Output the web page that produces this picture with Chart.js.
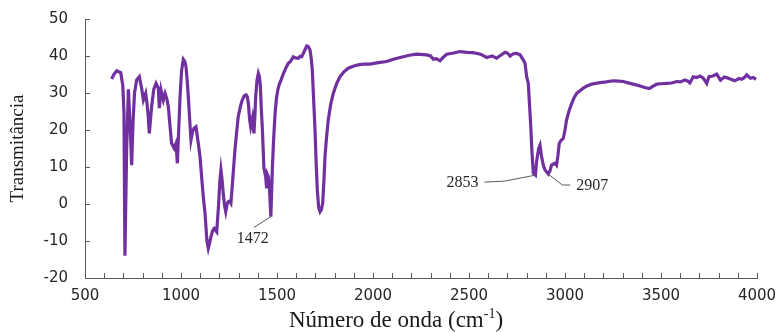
<!DOCTYPE html>
<html>
<head>
<meta charset="utf-8">
<script src="https://cdn.jsdelivr.net/npm/chart.js@4.4.1/dist/chart.umd.min.js"></script>
<style>
  html, body { margin: 0; padding: 0; background: #fff; }
  #wrap { width: 778px; height: 333px; }
</style>
</head>
<body>
<div id="wrap"><canvas id="spectrum" width="778" height="333"></canvas></div>
<script>
// wavenumber (cm-1) and transmittance
var wavenumbers = [
  639, 650, 665, 686, 697, 703, 708, 717, 726, 736, 743, 750, 758, 769, 783, 795, 804, 816, 822, 829,
  835, 847, 858, 870, 882, 887, 896, 908, 917, 926, 934, 943, 951, 964, 974, 981, 988, 995, 1003, 1012,
  1020, 1026, 1032, 1038, 1045, 1052, 1060, 1068, 1078, 1090, 1099, 1108, 1116, 1125, 1135, 1142, 1149, 1156, 1165, 1173,
  1186, 1196, 1202, 1208, 1214, 1220, 1227, 1233, 1240, 1246, 1253, 1260, 1270, 1281, 1290, 1298, 1310, 1319, 1329, 1339,
  1345, 1351, 1357, 1363, 1372, 1380, 1385, 1389, 1396, 1403, 1408, 1413, 1418, 1424, 1432, 1441, 1446, 1450, 1455, 1460,
  1468, 1476, 1483, 1490, 1497, 1504, 1512, 1521, 1530, 1538, 1548, 1559, 1570, 1585, 1597, 1611, 1620, 1629, 1640, 1648,
  1655, 1662, 1672, 1678, 1684, 1691, 1698, 1704, 1710, 1717, 1724, 1731, 1738, 1744, 1750, 1758, 1767, 1780, 1793, 1810,
  1828, 1850, 1871, 1900, 1923, 1950, 1984, 2028, 2071, 2110, 2158, 2190, 2227, 2280, 2300, 2314, 2330, 2349, 2365, 2384,
  2420, 2453, 2490, 2522, 2560, 2592, 2620, 2644, 2665, 2688, 2700, 2714, 2730, 2748, 2766, 2783, 2792, 2800, 2809, 2815,
  2821, 2828, 2835, 2846, 2851, 2856, 2863, 2870, 2878, 2887, 2896, 2913, 2922, 2930, 2940, 2948, 2956, 2963, 2970, 2980,
  2991, 3000, 3008, 3020, 3035, 3048, 3061, 3080, 3095, 3115, 3139, 3160, 3182, 3215, 3252, 3280, 3303, 3339, 3370, 3391,
  3415, 3439, 3455, 3478, 3500, 3530, 3555, 3582, 3600, 3625, 3640, 3650, 3668, 3685, 3703, 3720, 3738, 3750, 3770, 3790,
  3810, 3830, 3851, 3870, 3885, 3905, 3920, 3935, 3946, 3966, 3980, 3995
];
var transmittance = [
  33.8, 35.0, 36.0, 35.5, 32.0, 24.6, -14.0, 15.0, 31.0, 20.0, 10.5, 22.0, 30.0, 33.5, 34.4, 31.3, 28.1, 29.9, 27.6, 24.0,
  19.1, 26.3, 31.0, 32.6, 31.3, 25.9, 30.8, 28.1, 29.9, 28.5, 26.3, 21.0, 16.4, 15.1, 16.4, 11.0, 20.0, 29.0, 36.0, 39.1,
  38.5, 37.1, 33.5, 29.0, 23.0, 17.3, 19.5, 20.5, 20.9, 16.4, 12.8, 7.0, 2.0, -2.4, -10.0, -12.0, -10.5, -8.8, -7.2, -6.6,
  -7.5, 0.0, 6.0, 9.2, 6.5, 2.9, -0.5, -2.1, 0.0, 0.6, 0.8, 0.2, 7.0, 14.6, 19.5, 23.6, 26.5, 28.1, 29.2, 29.5,
  29.0, 27.2, 23.0, 20.9, 23.2, 19.1, 24.0, 29.0, 33.5, 35.3, 34.5, 32.2, 26.0, 20.0, 9.6, 7.4, 4.2, 8.0, 7.4, 5.0,
  -3.4, 10.0, 18.0, 24.5, 28.5, 30.8, 32.4, 33.5, 34.8, 35.8, 37.0, 38.0, 38.5, 39.8, 39.5, 39.4, 39.9, 39.8, 41.0, 42.0,
  42.7, 42.6, 41.6, 39.5, 36.2, 28.0, 20.0, 11.0, 3.8, -1.0, -2.1, -1.5, 0.2, 6.0, 12.8, 18.0, 22.7, 27.0, 29.9, 32.5,
  34.4, 35.8, 36.7, 37.3, 37.6, 37.8, 37.8, 38.2, 38.5, 39.2, 39.8, 40.2, 40.5, 40.3, 40.0, 39.1, 39.3, 38.7, 39.6, 40.5,
  40.8, 41.2, 41.0, 40.9, 40.5, 39.6, 40.0, 39.4, 40.2, 41.0, 40.8, 40.0, 40.6, 40.7, 40.3, 38.9, 38.0, 34.5, 32.6, 27.0,
  21.8, 14.0, 8.3, 7.8, 11.0, 12.8, 15.0, 15.9, 12.8, 10.5, 9.2, 8.1, 9.0, 10.5, 10.8, 11.0, 10.5, 13.0, 16.4, 17.2,
  17.7, 20.0, 22.7, 25.0, 27.2, 28.8, 29.9, 30.7, 31.3, 31.9, 32.4, 32.6, 32.8, 33.0, 33.3, 33.2, 33.1, 32.6, 32.2, 31.9,
  31.5, 31.2, 31.7, 32.4, 32.5, 32.6, 32.7, 33.1, 33.0, 33.5, 33.2, 32.7, 34.4, 34.2, 34.6, 34.0, 32.6, 34.4, 34.6, 35.1,
  33.5, 34.3, 34.0, 33.6, 33.3, 33.9, 33.7, 34.2, 34.9, 34.0, 34.2, 33.7
];

// labelled bands and the point each leader line starts from
var peakLabels = ['1472', '2853', '2907'];
var peakAnchors = [1468, 2846, 2913];

var xTickLabels = [500, 1000, 1500, 2000, 2500, 3000, 3500, 4000];
var yTickLabels = [-20, -10, 0, 10, 20, 30, 40, 50];

var points = [];
for (var i = 0; i < wavenumbers.length; i++) {
  points.push({ x: wavenumbers[i], y: transmittance[i] });
}

var axisColor = '#595959';
var tickFont = { family: '"DejaVu Sans", sans-serif', size: 15 };

var peakNotes = {
  id: 'peakNotes',
  afterDatasetsDraw: function (chart) {
    var ctx = chart.ctx;
    var xs = chart.scales.x, ys = chart.scales.y;
    var area = chart.chartArea;
    ctx.save();

    // inward tick marks on both axes
    ctx.strokeStyle = axisColor;
    ctx.lineWidth = 1;
    ctx.beginPath();
    xs.ticks.forEach(function (t) {
      var px = Math.round(xs.getPixelForValue(t.value)) + 0.5;
      ctx.moveTo(px, area.bottom);
      ctx.lineTo(px, area.bottom - 5);
    });
    ys.ticks.forEach(function (t) {
      var py = Math.round(ys.getPixelForValue(t.value)) + 0.5;
      ctx.moveTo(area.left, py);
      ctx.lineTo(area.left + 5, py);
    });
    ctx.stroke();

    ctx.fillStyle = '#262626';
    ctx.font = '16px "Liberation Serif", serif';
    ctx.textBaseline = 'middle';
    for (var k = 0; k < peakLabels.length; k++) {
      var idx = wavenumbers.indexOf(peakAnchors[k]);
      var px = xs.getPixelForValue(wavenumbers[idx]);
      var py = ys.getPixelForValue(transmittance[idx]);
      ctx.beginPath();
      ctx.moveTo(px, py);
      if (k === 0) {
        ctx.lineTo(px - 17, py + 11);
        ctx.stroke();
        ctx.textAlign = 'center';
        ctx.fillText(peakLabels[k], px - 18, py + 22);
      } else if (k === 1) {
        ctx.lineTo(px - 31, py + 6);
        ctx.lineTo(px - 51, py + 7);
        ctx.stroke();
        ctx.textAlign = 'right';
        ctx.fillText(peakLabels[k], px - 57, py + 8);
      } else {
        ctx.lineTo(px + 14, py + 11);
        ctx.lineTo(px + 22, py + 11);
        ctx.stroke();
        ctx.textAlign = 'left';
        ctx.fillText(peakLabels[k], px + 28, py + 12);
      }
    }
    ctx.restore();
  },
  afterDraw: function (chart) {
    // x axis title, drawn by hand for the superscript
    var ctx = chart.ctx;
    var big = '23px "Liberation Serif", serif';
    var small = '14px "Liberation Serif", serif';
    var a = 'Número de onda (cm', sup = '-1', b = ')';
    ctx.save();
    ctx.fillStyle = '#1a1a1a';
    ctx.textBaseline = 'alphabetic';
    ctx.font = big;
    var wa = ctx.measureText(a).width, wb = ctx.measureText(b).width;
    ctx.font = small;
    var ws = ctx.measureText(sup).width;
    var cx = chart.width / 2 + 7;
    var x0 = cx - (wa + ws + wb) / 2;
    var base = 327;
    ctx.textAlign = 'left';
    ctx.font = big;
    ctx.fillText(a, x0, base);
    ctx.font = small;
    ctx.fillText(sup, x0 + wa, base - 9);
    ctx.font = big;
    ctx.fillText(b, x0 + wa + ws, base);
    ctx.restore();
  }
};

new Chart(document.getElementById('spectrum').getContext('2d'), {
  type: 'line',
  data: {
    datasets: [{
      data: points,
      borderColor: '#7030A0',
      borderWidth: 3.2,
      pointRadius: 0,
      tension: 0,
      fill: false
    }]
  },
  options: {
    responsive: false,
    animation: false,
    layout: { padding: { top: 19, right: 21, bottom: 0, left: 0 } },
    plugins: { legend: { display: false }, tooltip: { enabled: false } },
    scales: {
      x: {
        type: 'linear',
        min: 500,
        max: 4000,
        border: { color: axisColor, width: 1 },
        grid: { drawOnChartArea: false, drawTicks: false },
        ticks: {
          stepSize: 100,
          autoSkip: false,
          maxRotation: 0,
          padding: 9,
          color: '#262626',
          font: tickFont,
          callback: function (v) { return xTickLabels.indexOf(v) >= 0 ? String(v) : ''; }
        },
        afterFit: function (scale) {
          scale.height = 55;
          scale.paddingLeft = 0;
          scale.paddingRight = 0;
        }
      },
      y: {
        min: -20,
        max: 50,
        border: { color: axisColor, width: 1 },
        grid: { drawOnChartArea: false, drawTicks: false },
        ticks: {
          stepSize: 5,
          padding: 17,
          color: '#262626',
          font: tickFont,
          callback: function (v) { return yTickLabels.indexOf(v) >= 0 ? String(v) : ''; }
        },
        title: {
          display: true,
          text: 'Transmitância',
          color: '#1a1a1a',
          font: { family: '"Liberation Serif", serif', size: 19 },
          padding: { top: 7, bottom: 0 }
        },
        afterFit: function (scale) {
          scale.width = 85;
          scale.paddingTop = 0;
          scale.paddingBottom = 0;
        }
      }
    }
  },
  plugins: [peakNotes]
});
</script>
</body>
</html>
